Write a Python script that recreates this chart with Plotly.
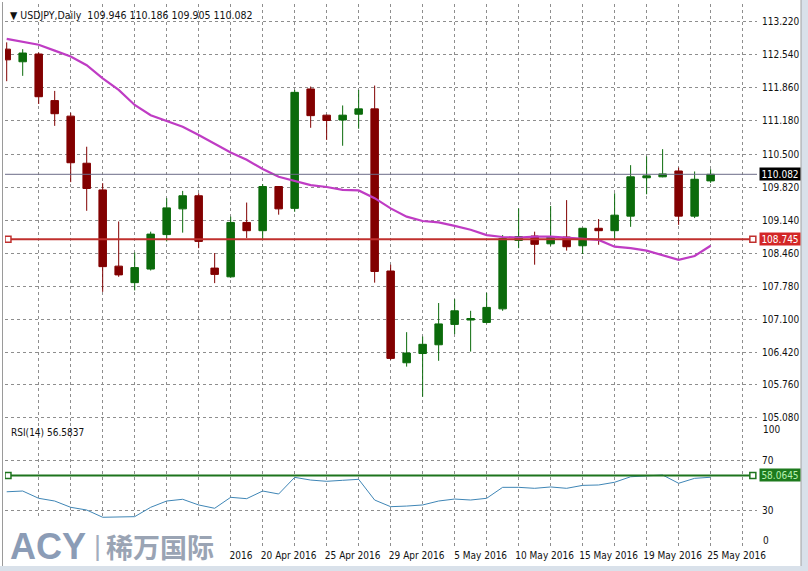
import datetime as dt
import plotly.graph_objects as go
from plotly.subplots import make_subplots

# ---------------- data ----------------
dates = ["2016-04-01", "2016-04-03", "2016-04-04", "2016-04-05", "2016-04-06", "2016-04-07",
         "2016-04-08", "2016-04-10", "2016-04-11", "2016-04-12", "2016-04-13", "2016-04-14",
         "2016-04-15", "2016-04-17", "2016-04-18", "2016-04-19", "2016-04-20", "2016-04-21",
         "2016-04-22", "2016-04-24", "2016-04-25", "2016-04-26", "2016-04-27", "2016-04-28",
         "2016-04-29", "2016-05-02", "2016-05-03", "2016-05-04", "2016-05-05", "2016-05-06",
         "2016-05-08", "2016-05-09", "2016-05-10", "2016-05-11", "2016-05-12", "2016-05-13",
         "2016-05-15", "2016-05-16", "2016-05-17", "2016-05-18", "2016-05-19", "2016-05-20",
         "2016-05-23", "2016-05-24", "2016-05-25"]

opens = [112.66, 112.40, 112.56, 111.60, 111.28, 110.31, 109.76, 108.19, 107.85, 108.13,
         108.84, 109.37, 109.64, 108.15, 107.97, 109.09, 108.92, 109.83, 109.38, 111.84,
         111.30, 111.20, 111.32, 111.43, 108.09, 106.20, 106.39, 106.57, 106.99, 107.08,
         107.03, 107.31, 108.72, 108.81, 108.65, 108.79, 108.61, 108.97, 108.92, 109.22,
         110.01, 110.03, 110.15, 109.22, 109.946]
highs = [112.80, 112.66, 112.59, 111.80, 111.35, 110.65, 109.90, 109.11, 108.47, 108.90,
         109.59, 109.74, 109.69, 108.46, 109.21, 109.50, 109.88, 109.84, 111.82, 111.89,
         111.31, 111.50, 111.82, 111.91, 108.22, 106.83, 106.74, 107.43, 107.51, 107.27,
         107.64, 108.83, 109.38, 108.90, 109.43, 109.55, 108.98, 109.16, 109.69, 110.27,
         110.45, 110.60, 110.22, 110.14, 110.186]
lows = [112.00, 112.11, 111.53, 111.08, 109.92, 109.33, 107.66, 107.97, 107.69, 108.10,
        108.70, 108.88, 108.56, 107.84, 107.95, 108.77, 108.73, 109.25, 109.31, 111.04,
        110.79, 110.67, 111.02, 107.85, 106.26, 106.12, 105.50, 106.24, 106.79, 106.43,
        107.01, 107.27, 108.56, 108.22, 108.61, 108.51, 108.44, 108.63, 108.73, 109.00,
        109.67, 110.02, 109.04, 109.18, 109.905]
closes = [112.44, 112.58, 111.68, 111.33, 110.32, 109.79, 108.18, 108.01, 108.16, 108.85,
          109.39, 109.64, 108.70, 108.02, 109.09, 108.92, 109.83, 109.37, 111.77, 111.29,
          111.19, 111.30, 111.43, 108.08, 106.29, 106.40, 106.58, 107.00, 107.27, 107.11,
          107.34, 108.76, 108.80, 108.64, 108.79, 108.59, 108.97, 108.92, 109.24, 110.03,
          110.05, 110.09, 109.22, 109.98, 110.082]
ma = [112.87, 112.81, 112.75, 112.63, 112.51, 112.33, 112.06, 111.82, 111.51, 111.30,
      111.18, 111.06, 110.89, 110.71, 110.53, 110.38, 110.19, 110.03, 109.95, 109.86,
      109.82, 109.76, 109.75, 109.59, 109.38, 109.21, 109.12, 109.09, 109.02, 108.94,
      108.83, 108.79, 108.78, 108.80, 108.80, 108.78, 108.75, 108.73, 108.59, 108.56,
      108.51, 108.42, 108.32, 108.40, 108.61]
rsi = [44.8, 45.4, 39.5, 37.3, 32.2, 30.0, 24.1, 24.1, 24.6, 32.2,
       37.3, 38.7, 34.1, 31.4, 40.3, 39.2, 45.4, 43.0, 56.5, 54.3,
       53.3, 54.1, 54.9, 38.1, 32.7, 33.2, 34.1, 37.3, 38.9, 38.1,
       39.5, 48.4, 48.4, 47.6, 48.7, 47.6, 50.0, 50.3, 52.5, 57.0,
       57.6, 58.4, 51.7, 55.7, 56.58]
price_ticks = [113.220, 112.540, 111.860, 111.180, 110.500, 109.820, 109.140,
               108.460, 107.780, 107.100, 106.420, 105.760, 105.080]
rsi_ticks = [70, 30]
rsi_edge_labels = ["100", "0"]
last_price = 110.082
level_price = 108.745
rsi_level = 58.0645
rsi_last = 56.5837
symbol = "USDJPY,Daily"

# ---------------- styling ----------------
FONT = "Tahoma, 'DejaVu Sans Condensed', 'Liberation Sans', Arial, sans-serif"
GRID = "#8e8e8e"
UP = "#0b6b0b"
DOWN = "#820000"
W, H = 808, 571
L_PX, R_PX, T_PX, B_PX = 5, 757, 4, 546
MAIN_BOTTOM, RSI_TOP = 421, 423
PW, PH = R_PX - L_PX, B_PX - T_PX


def px_x(px):
    return (px - L_PX) / PW


def px_y(py):
    return (B_PX - py) / PH


idx = list(range(len(dates)))
x_lo, x_hi = -0.106, 46.9
# date labels every 4th bar; the earliest ones sit under the logo box in the original
label_idx = idx[12::4]
label_text = [dt.datetime.strptime(dates[i], "%Y-%m-%d").strftime("%d %b %Y").lstrip("0")
              for i in label_idx]

fig = make_subplots(rows=2, cols=1, shared_xaxes=True, vertical_spacing=0.0)

fig.add_trace(go.Candlestick(
    x=idx, open=opens, high=highs, low=lows, close=closes,
    increasing=dict(line=dict(color=UP, width=1), fillcolor=UP),
    decreasing=dict(line=dict(color=DOWN, width=1), fillcolor=DOWN),
    whiskerwidth=0, showlegend=False, hoverinfo="skip"), row=1, col=1)

fig.add_trace(go.Scatter(x=idx, y=ma, mode="lines",
                         line=dict(color="#bf3cc4", width=2.2),
                         showlegend=False, hoverinfo="skip"), row=1, col=1)

# current price line
fig.add_trace(go.Scatter(x=[x_lo, x_hi], y=[last_price, last_price], mode="lines",
                         line=dict(color="#6c6c88", width=1),
                         showlegend=False, hoverinfo="skip"), row=1, col=1)
# horizontal level
fig.add_trace(go.Scatter(x=[x_lo, 46.64], y=[level_price, level_price], mode="lines",
                         line=dict(color="#c0302e", width=2),
                         showlegend=False, hoverinfo="skip"), row=1, col=1)
fig.add_trace(go.Scatter(x=[0.08, 46.64], y=[level_price, level_price], mode="markers",
                         marker=dict(symbol="square", size=6, color="white",
                                     line=dict(color="#c0302e", width=1.5)),
                         showlegend=False, hoverinfo="skip"), row=1, col=1)

# RSI
fig.add_trace(go.Scatter(x=idx, y=rsi, mode="lines",
                         line=dict(color="#3f86b6", width=1),
                         showlegend=False, hoverinfo="skip"), row=2, col=1)
fig.add_trace(go.Scatter(x=[x_lo, 46.64], y=[rsi_level, rsi_level], mode="lines",
                         line=dict(color="#1d741d", width=2),
                         showlegend=False, hoverinfo="skip"), row=2, col=1)
fig.add_trace(go.Scatter(x=[0.08, 46.64], y=[rsi_level, rsi_level], mode="markers",
                         marker=dict(symbol="square", size=6, color="white",
                                     line=dict(color="#1d741d", width=1.5)),
                         showlegend=False, hoverinfo="skip"), row=2, col=1)

grid_minor = dict(tickvals=list(range(2, 48, 2)), showgrid=True, gridcolor=GRID,
                  griddash="3px,3px", gridwidth=1, ticks="")
fig.update_xaxes(range=[x_lo, x_hi], tickmode="array", tickvals=label_idx,
                 ticktext=label_text, showgrid=False, zeroline=False, showline=False,
                 ticks="", minor=grid_minor, rangeslider=dict(visible=False),
                 automargin=False,
                 tickfont=dict(family=FONT, size=10, color="#111"))
fig.update_xaxes(showticklabels=False, row=1, col=1)
fig.update_xaxes(showticklabels=True, ticklabelshift=26, ticklabelstandoff=2, row=2, col=1)

fig.update_yaxes(side="right", tickmode="array", showgrid=True, gridcolor=GRID,
                 griddash="3px,3px", zeroline=False, showline=False, ticks="",
                 automargin=False,
                 ticklabelstandoff=4, tickfont=dict(family=FONT, size=10, color="#111"))
fig.update_yaxes(domain=[px_y(MAIN_BOTTOM), 1.0], range=[105.0, 113.59],
                 tickvals=price_ticks, ticktext=[f"{v:.3f}" for v in price_ticks],
                 row=1, col=1)
fig.update_yaxes(domain=[0.0, px_y(RSI_TOP)], range=[0.8, 100.6],
                 tickvals=rsi_ticks, ticktext=[str(v) for v in rsi_ticks], row=2, col=1)

ann = []
# header
ann.append(dict(xref="paper", yref="paper", x=px_x(8), y=px_y(14.5), xanchor="left",
                yanchor="middle", showarrow=False,
                text=f"▼ {symbol}  {opens[-1]:.3f} {highs[-1]:.3f} {lows[-1]:.3f} {closes[-1]:.3f}",
                font=dict(family=FONT, size=10.5, color="#111")))
ann.append(dict(xref="paper", yref="paper", x=px_x(9), y=px_y(432), xanchor="left",
                yanchor="middle", showarrow=False, text=f"RSI(14) {rsi_last:.4f}",
                font=dict(family=FONT, size=10, color="#111")))
# RSI edge labels
for txt, py in zip(rsi_edge_labels, [429, 540]):
    ann.append(dict(xref="paper", yref="paper", x=px_x(761), y=px_y(py), xanchor="left",
                    yanchor="middle", showarrow=False, text=txt,
                    font=dict(family=FONT, size=10, color="#111")))
# price boxes
ann.append(dict(xref="paper", yref="y", x=px_x(759), y=last_price, xanchor="left",
                yanchor="middle", showarrow=False, text=f"{last_price:.3f}",
                bgcolor="#000000", width=40, height=12, borderpad=0, align="center",
                font=dict(family=FONT, size=10, color="#ffffff")))
ann.append(dict(xref="paper", yref="y", x=px_x(759), y=level_price, xanchor="left",
                yanchor="middle", showarrow=False, text=f"{level_price:.3f}",
                bgcolor="#d32626", width=40, height=12, borderpad=0, align="center",
                font=dict(family=FONT, size=10, color="#ffffff")))
ann.append(dict(xref="paper", yref="y2", x=px_x(759), y=rsi_level, xanchor="left",
                yanchor="middle", showarrow=False, text=f"{rsi_level:.4f}",
                bgcolor="#1d7a1d", width=40, height=12, borderpad=0, align="center",
                font=dict(family=FONT, size=10, color="#b6f0b0")))
# logo
ann.append(dict(xref="paper", yref="paper", x=px_x(8), y=px_y(546), xanchor="left",
                yanchor="middle", showarrow=False, text="<b>ACY</b>",
                font=dict(family="'Liberation Sans', Arial, sans-serif", size=36, color="#8b9cb6")))
ann.append(dict(xref="paper", yref="paper", x=px_x(92), y=px_y(546), xanchor="left",
                yanchor="middle", showarrow=False, text="|",
                font=dict(family="'Liberation Sans', Arial, sans-serif", size=27, color="#a3adbd")))
ann.append(dict(xref="paper", yref="paper", x=px_x(104), y=px_y(546), xanchor="left",
                yanchor="middle", showarrow=False, text="<b>稀万国际</b>",
                font=dict(family="'Noto Sans CJK SC', sans-serif", size=27, color="#9aa4b4")))

shapes = [
    # logo white box
    dict(type="rect", xref="paper", yref="paper", x0=px_x(0), x1=px_x(228),
         y0=px_y(571), y1=px_y(519), fillcolor="white", line=dict(width=0), layer="above"),
    # window frame
    dict(type="line", xref="paper", yref="paper", x0=px_x(2.5), x1=px_x(2.5),
         y0=px_y(566), y1=px_y(2), line=dict(color="#9a9a9a", width=1), layer="above"),
    dict(type="rect", xref="paper", yref="paper", x0=px_x(801), x1=px_x(809),
         y0=px_y(572), y1=px_y(-1), fillcolor="#d9e1ea", line=dict(width=0), layer="above"),
    dict(type="line", xref="paper", yref="paper", x0=px_x(801), x1=px_x(801),
         y0=px_y(566), y1=px_y(0), line=dict(color="#a0a0a0", width=1), layer="above"),
    dict(type="rect", xref="paper", yref="paper", x0=px_x(0), x1=px_x(809),
         y0=px_y(572), y1=px_y(566), fillcolor="#d9e1ea", line=dict(width=0), layer="above"),
]

fig.update_layout(
    width=W, height=H, paper_bgcolor="white", plot_bgcolor="white",
    margin=dict(l=L_PX, r=W - R_PX, t=T_PX, b=H - B_PX, autoexpand=False),
    boxgap=0.33, showlegend=False, annotations=ann, shapes=shapes,
    font=dict(family=FONT, size=10, color="#111"),
)

fig.write_html("out.html", config={"displayModeBar": False},
               post_script="document.body.style.margin='0';document.body.style.overflow='hidden';")
